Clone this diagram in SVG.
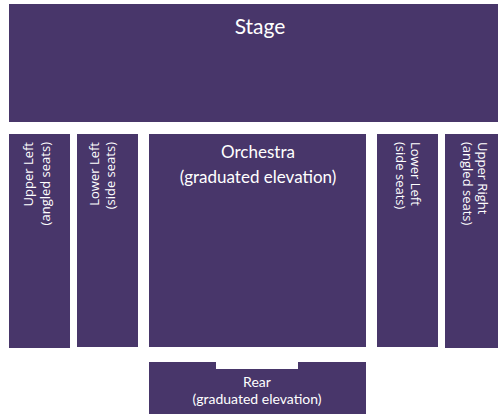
<svg xmlns="http://www.w3.org/2000/svg" width="498" height="414" viewBox="0 0 498 414">
<style>
.b{fill:#48366a}
.t{fill:#ffffff;font-family:Lato,"Open Sans",sans-serif;text-anchor:middle}
.v{fill:#ffffff;font-family:"Open Sans",sans-serif;font-size:13px}
</style>
<rect width="498" height="414" fill="#ffffff"/>
<g id="stage">
<rect class="b" x="9" y="4" width="492" height="118"/>
<text class="t" x="260" y="34" font-size="21">Stage</text>
</g>
<g id="upper-left">
<rect class="b" x="9" y="134" width="61" height="214"/>
<text class="v" text-anchor="end" transform="translate(33,142) rotate(-90)">Upper Left</text>
<text class="v" text-anchor="end" transform="translate(50,142) rotate(-90)">(angled seats)</text>
</g>
<g id="lower-left">
<rect class="b" x="77" y="134" width="61" height="213"/>
<text class="v" text-anchor="end" transform="translate(99,142) rotate(-90)">Lower Left</text>
<text class="v" text-anchor="end" transform="translate(115,142) rotate(-90)">(side seats)</text>
</g>
<g id="orchestra">
<rect class="b" x="149" y="134" width="217" height="213"/>
<text class="t" x="258" y="158" font-size="17">Orchestra</text>
<text class="t" x="258" y="183" font-size="17">(graduated elevation)</text>
</g>
<g id="lower-right">
<rect class="b" x="377" y="134" width="61" height="213"/>
<text class="v" transform="translate(411,142) rotate(90)">Lower Left</text>
<text class="v" transform="translate(396,142) rotate(90)">(side seats)</text>
</g>
<g id="upper-right">
<rect class="b" x="445" y="134" width="56" height="214"/>
<text class="v" transform="translate(478,142) rotate(90)">Upper Right</text>
<text class="v" transform="translate(463,142) rotate(90)">(angled seats)</text>
</g>
<g id="rear">
<path class="b" d="M149,362 H216 V369 H298 V362 H366 V414 H149 Z"/>
<text class="t" x="257" y="387" font-size="14">Rear</text>
<text class="t" x="257" y="404" font-size="14">(graduated elevation)</text>
</g>
<g id="connectors"/>
</svg>
